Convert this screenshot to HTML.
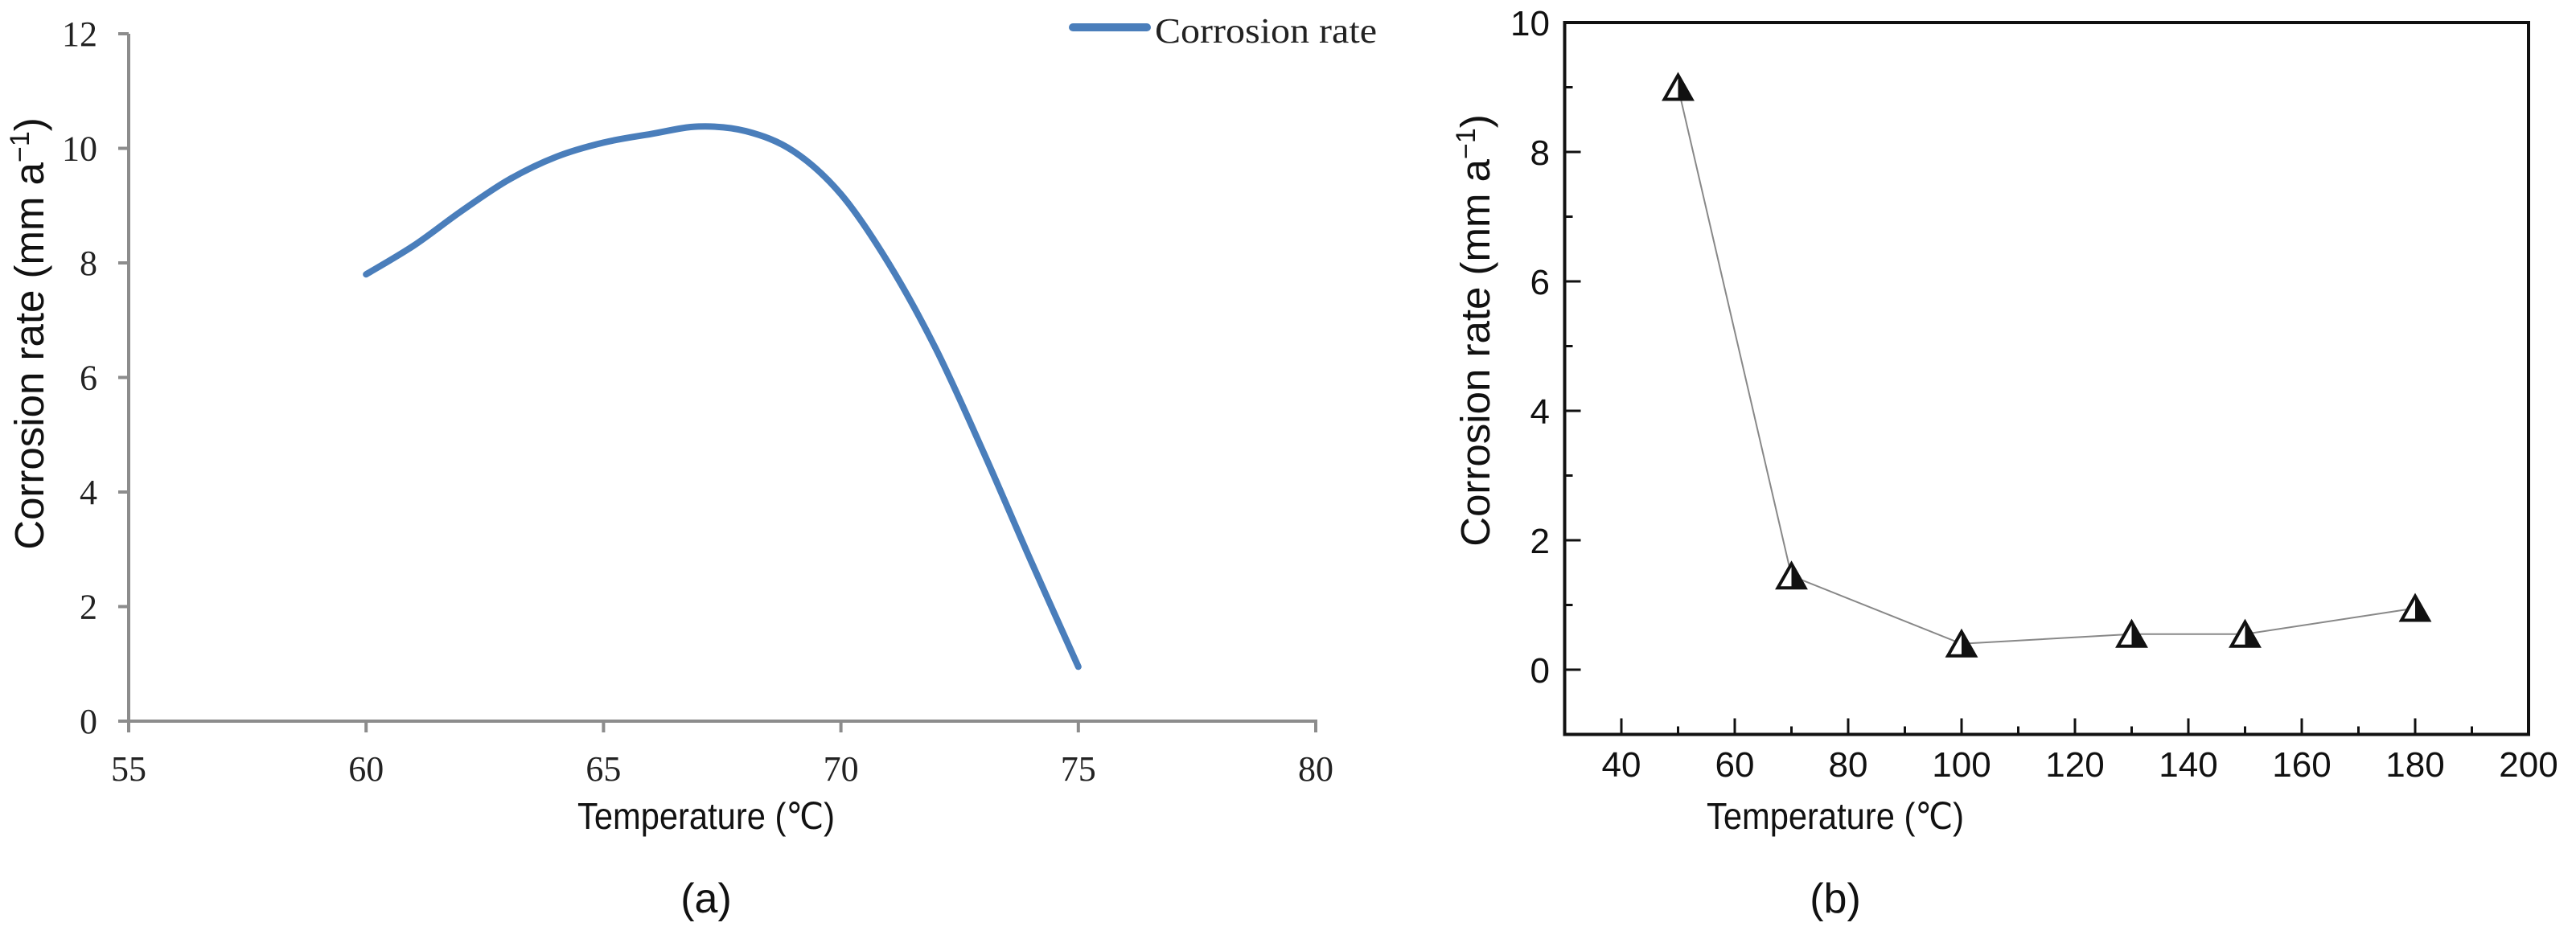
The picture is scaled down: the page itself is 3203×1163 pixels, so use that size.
<!DOCTYPE html>
<html><head><meta charset="utf-8"><style>
html,body{margin:0;padding:0;background:#fff;}
svg{display:block;}
</style></head><body>
<svg id="fig" width="3203" height="1163" viewBox="0 0 3203 1163" xmlns="http://www.w3.org/2000/svg">
<g id="chartA"></g>
<g id="chartB"></g>
</svg>
<script>
// ---- Chart (a) data ----
const aTemps = [60,61,62,63,64,65,66,67,68,69,70,71,72,73,74,75];
const aRates = [7.8,8.3,8.9,9.45,9.85,10.1,10.25,10.38,10.3,9.95,9.2,8.0,6.5,4.7,2.8,0.95];
const aXTicks = [55,60,65,70,75,80];
const aYTicks = [0,2,4,6,8,10,12];
// ---- Chart (b) data ----
const bTemps = [50,70,100,130,150,180];
const bRates = [9.0,1.45,0.4,0.55,0.55,0.95];
const bXTicks = [40,60,80,100,120,140,160,180,200];
const bYTicks = [0,2,4,6,8,10];

const NS='http://www.w3.org/2000/svg';
function mk(parent,tag,attrs,text){
  const e=document.createElementNS(NS,tag);
  for(const k in attrs) e.setAttribute(k,attrs[k]);
  if(text!==undefined) e.textContent=text;
  parent.appendChild(e); return e;
}

// ===== Chart A =====
(function(){
  const g=document.getElementById('chartA');
  const X=v=>160+(v-55)*(1636-160)/25;
  const Y=v=>897-v*(897-42)/12;
  const grey='#8c8c8c';
  let e;
  e=mk(g,'line',{x1:160,y1:42,x2:160,y2:903,stroke:grey,'stroke-width':4});
   
  e=mk(g,'line',{x1:147,y1:897,x2:1638,y2:897,stroke:grey,'stroke-width':4});
   
  aYTicks.forEach(v=>{
    let t=mk(g,'line',{x1:147,y1:Y(v),x2:160,y2:Y(v),stroke:grey,'stroke-width':4});
     
    let l=mk(g,'text',{x:121,y:Y(v)+15,'text-anchor':'end','font-family':'Liberation Serif, serif','font-size':44,fill:'#222'},String(v));
     
  });
  aXTicks.forEach(v=>{
    let t=mk(g,'line',{x1:X(v),y1:897,x2:X(v),y2:911,stroke:grey,'stroke-width':4});
     
    let l=mk(g,'text',{x:X(v),y:971,'text-anchor':'middle','font-family':'Liberation Serif, serif','font-size':44,fill:'#222'},String(v));
     
  });
  const P=aTemps.map((t,i)=>[X(t),Y(aRates[i])]);
  let d='M'+P[0][0]+','+P[0][1];
  for(let i=0;i<P.length-1;i++){
    const p0=P[Math.max(0,i-1)],p1=P[i],p2=P[i+1],p3=P[Math.min(P.length-1,i+2)];
    const c1=[p1[0]+(p2[0]-p0[0])/6,p1[1]+(p2[1]-p0[1])/6];
    const c2=[p2[0]-(p3[0]-p1[0])/6,p2[1]-(p3[1]-p1[1])/6];
    d+=` C${c1[0]},${c1[1]} ${c2[0]},${c2[1]} ${p2[0]},${p2[1]}`;
  }
  e=mk(g,'path',{d:d,fill:'none',stroke:'#4a7ebb','stroke-width':8,'stroke-linecap':'round','stroke-linejoin':'round'});
   
  e=mk(g,'line',{x1:1334,y1:34,x2:1426,y2:34,stroke:'#4a7ebb','stroke-width':10,'stroke-linecap':'round'});
   
  e=mk(g,'text',{x:1436,y:53,'font-family':'Liberation Serif, serif','font-size':44,fill:'#222','textLength':276,'lengthAdjust':'spacingAndGlyphs'},'Corrosion  rate');
   
  e=mk(g,'text',{x:878,y:1031,'text-anchor':'middle','font-family':'Liberation Sans, sans-serif','font-size':46,fill:'#111','textLength':320,'lengthAdjust':'spacingAndGlyphs'},'Temperature (℃)');
   
  e=mk(g,'text',{x:0,y:0,transform:'translate(54,415) rotate(-90)','text-anchor':'middle','font-family':'Liberation Sans, sans-serif','font-size':51,fill:'#111'});
  e.innerHTML='Corrosion rate (mm a<tspan dy="-18" font-size="34">−1</tspan><tspan dy="18">)</tspan>';
   
  e=mk(g,'text',{x:878,y:1135,'text-anchor':'middle','font-family':'Liberation Sans, sans-serif','font-size':52,fill:'#111'},'(a)');
   
})();

// ===== Chart B =====
(function(){
  const g=document.getElementById('chartB');
  const X=v=>2016+(v-40)*(2157-2016)/20;
  const Y=v=>833-v*80.5;
  const L=X(30),R=X(200),T=Y(10),B=Y(-1);
  let e;
  e=mk(g,'rect',{x:L,y:T,width:R-L,height:B-T,fill:'none',stroke:'#111','stroke-width':4});
   
  bYTicks.forEach(v=>{
    let t=mk(g,'line',{x1:L,y1:Y(v),x2:L+20,y2:Y(v),stroke:'#111','stroke-width':3});
     
    let m=mk(g,'line',{x1:L,y1:Y(v-1),x2:L+10,y2:Y(v-1),stroke:'#111','stroke-width':3});
     
    let l=mk(g,'text',{x:1927,y:Y(v)+16,'text-anchor':'end','font-family':'Liberation Sans, sans-serif','font-size':44,fill:'#111'},String(v));
     
  });
  bXTicks.forEach(v=>{
    if(v<200){
      let t=mk(g,'line',{x1:X(v),y1:B,x2:X(v),y2:B-20,stroke:'#111','stroke-width':3});
       
    }
    let m=mk(g,'line',{x1:X(v-10),y1:B,x2:X(v-10),y2:B-10,stroke:'#111','stroke-width':3});
     
    let l=mk(g,'text',{x:X(v),y:966,'text-anchor':'middle','font-family':'Liberation Sans, sans-serif','font-size':44,fill:'#111'},String(v));
     
  });
  const pts=bTemps.map((t,i)=>X(t)+','+Y(bRates[i])).join(' ');
  e=mk(g,'polyline',{points:pts,fill:'none',stroke:'#888','stroke-width':2});
   
  bTemps.forEach((t,i)=>{
    const cx=X(t),cy=Y(bRates[i]);
    const gg=mk(g,'g',{});
     
    mk(gg,'polygon',{points:`${cx},${cy-15} ${cx+17},${cy+15} ${cx-17},${cy+15}`,fill:'#fff',stroke:'#111','stroke-width':4,'stroke-linejoin':'miter'});
    mk(gg,'polygon',{points:`${cx},${cy-15} ${cx+17},${cy+15} ${cx},${cy+15}`,fill:'#111'});
  });
  e=mk(g,'text',{x:2282,y:1031,'text-anchor':'middle','font-family':'Liberation Sans, sans-serif','font-size':46,fill:'#111','textLength':320,'lengthAdjust':'spacingAndGlyphs'},'Temperature (℃)');
   
  e=mk(g,'text',{x:0,y:0,transform:'translate(1852,411) rotate(-90)','text-anchor':'middle','font-family':'Liberation Sans, sans-serif','font-size':51,fill:'#111'});
  e.innerHTML='Corrosion rate (mm a<tspan dy="-18" font-size="34">−1</tspan><tspan dy="18">)</tspan>';
   
  e=mk(g,'text',{x:2282,y:1135,'text-anchor':'middle','font-family':'Liberation Sans, sans-serif','font-size':52,fill:'#111'},'(b)');
   
})();
</script>
</body></html>
